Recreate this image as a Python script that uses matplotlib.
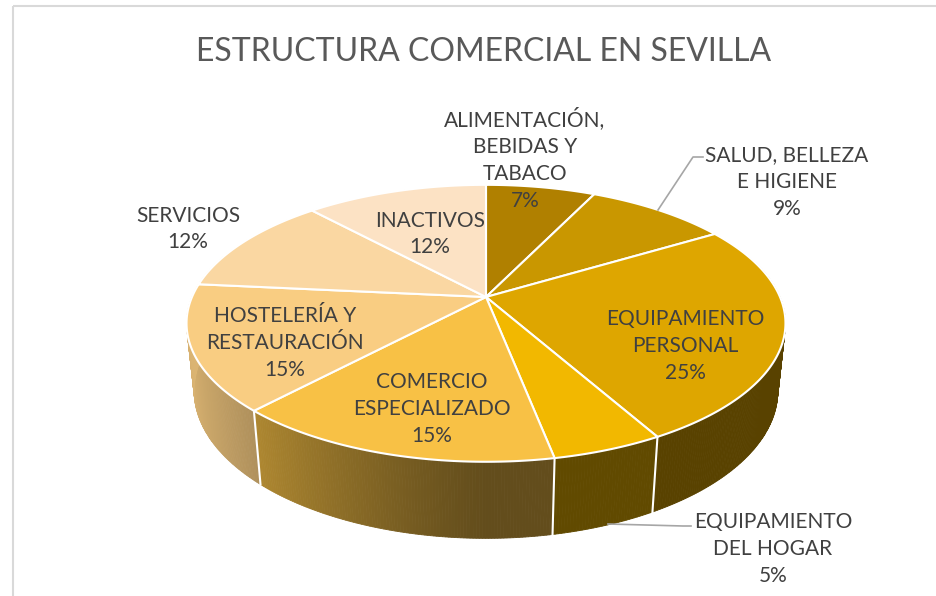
import numpy as np
import matplotlib
matplotlib.use("Agg")
import matplotlib.pyplot as plt
from matplotlib.patches import Polygon, Rectangle
from matplotlib.colors import to_rgb

# ---------------- data ----------------
categories = ["ALIMENTACIÓN,\nBEBIDAS Y\nTABACO", "SALUD, BELLEZA\nE HIGIENE",
              "EQUIPAMIENTO\nPERSONAL", "EQUIPAMIENTO\nDEL HOGAR",
              "COMERCIO\nESPECIALIZADO", "HOSTELERÍA Y\nRESTAURACIÓN",
              "SERVICIOS", "INACTIVOS"]
values = [7, 9, 25, 5, 15, 15, 12, 12]
colors = ["#B08000", "#C99700", "#DEA600", "#F2B800",
          "#F8C145", "#F9CD82", "#FAD7A2", "#FCE2C4"]
title = "ESTRUCTURA COMERCIAL EN SEVILLA"

# ---------------- layout ----------------
W, H = 936, 596
fig = plt.figure(figsize=(W / 100, H / 100), dpi=100)
ax = fig.add_axes([0, 0, 1, 1])
ax.set_xlim(0, W)
ax.set_ylim(H, 0)
ax.axis("off")
plt.rcParams['font.family'] = ['Lato', 'DejaVu Sans']
TXT = "#404040"

# perspective parameters
cx, cy = 486, 297
S = 294.0
D = 4.69
elev = np.deg2rad(27)
ce, se = np.cos(elev), np.sin(elev)
h = 0.26


def warp(t):
    # slight view twist of Excel's 3-D renderer
    return t + np.deg2rad(3.5) * np.abs(np.sin(t / 2)) ** 1.5


def proj(x, y, z):
    fwd = D + y * ce - z * se
    up = z * ce + y * se
    return cx + S * D * x / fwd, cy - S * D * up / fwd


def rim(t, z=0.0):
    tw = warp(t)
    return proj(np.sin(tw), np.cos(tw), z)


frac = np.array(values, float) / np.sum(values)
bounds = np.concatenate([[0], np.cumsum(frac)]) * 2 * np.pi

# frame
ax.add_patch(Rectangle((13, 6), 1000, 1000, fill=False, ec="#D9D9D9", lw=1.5, zorder=0))


def shade(col, x):
    f = 0.40 + 0.48 * (max(0.0, -x)) ** 1.2
    r, g, b = to_rgb(col)
    return (r * f, g * f, b * f)


# side walls (front half)
for i, col in enumerate(colors):
    t0, t1 = bounds[i], bounds[i + 1]
    lo, hi = max(t0, np.pi / 2 - 0.3), min(t1, 3 * np.pi / 2 + 0.3)
    if hi <= lo:
        continue
    ts = np.linspace(lo, hi, max(2, int((hi - lo) / np.deg2rad(0.5)) + 1))
    for a, b in zip(ts[:-1], ts[1:]):
        pts = [rim(a), rim(b), rim(b, -h), rim(a, -h)]
        c = shade(col, np.sin(warp((a + b) / 2)))
        ax.add_patch(Polygon(pts, closed=True, fc=c, ec=c, lw=0.6, zorder=1))
for t in bounds[1:-1]:
    if np.pi / 2 < warp(t) < 3 * np.pi / 2:
        p0, p1 = rim(t), rim(t, -h)
        ax.plot([p0[0], p1[0]], [p0[1], p1[1]], color="white", lw=1.5, zorder=2)

# top faces
for i, col in enumerate(colors):
    t0, t1 = bounds[i], bounds[i + 1]
    ts = np.linspace(t0, t1, 200)
    pts = [proj(0, 0, 0)] + [rim(t) for t in ts]
    ax.add_patch(Polygon(pts, closed=True, fc=col, ec="white", lw=1.5,
                         joinstyle="round", zorder=3))

# title
ax.text(484, 52, title, ha="center", va="center", fontsize=23, color="#595959", zorder=5)

# labels (centre of text block in pixels)
label_pos = [(525, 159), (787, 182), (685, 346), (773, 549),
             (432, 409), (285, 343), (188, 229), (430, 234)]
for cat, v, (lx, ly) in zip(categories, values, label_pos):
    ax.text(lx, ly, f"{cat}\n{v}%", ha="center", va="center", fontsize=15,
            color=TXT, linespacing=1.42, zorder=6)

# leader lines
ax.plot([658, 693, 703], [210, 157, 157], color="#A6A6A6", lw=1.2, zorder=4)
ax.plot([608, 683, 691], [524, 526, 526], color="#A6A6A6", lw=1.2, zorder=4)

fig.savefig("out.png", dpi=100)
